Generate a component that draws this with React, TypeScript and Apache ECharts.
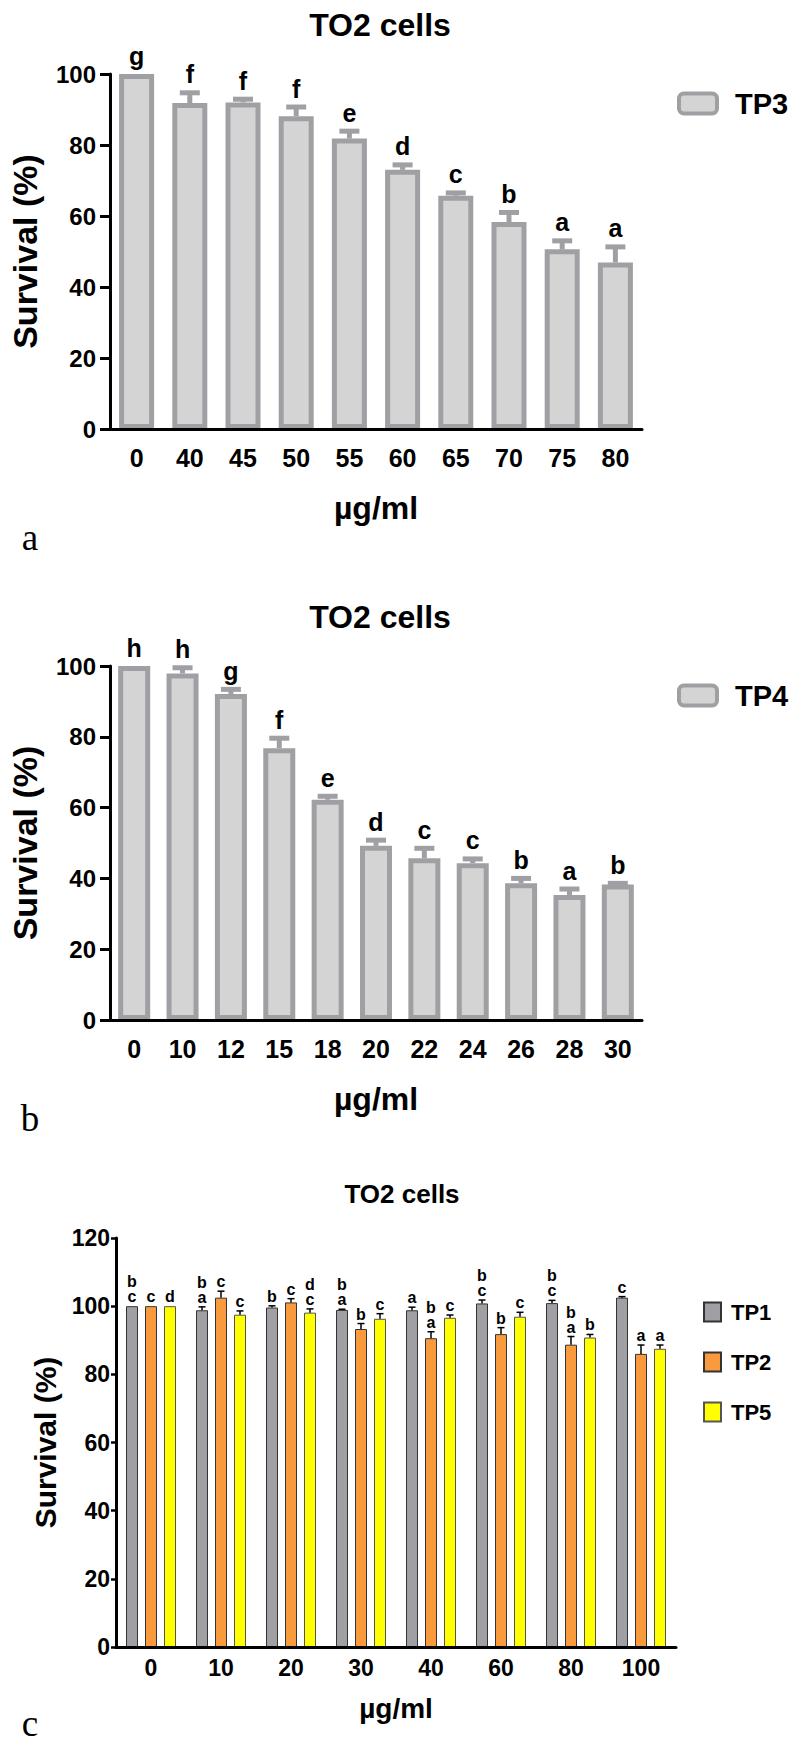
import React, { useEffect, useRef } from 'react';
import * as echarts from 'echarts';

// ---------- data ----------
const catsA = ['0', '40', '45', '50', '55', '60', '65', '70', '75', '80'];
const meanA = [100, 91.8, 92.0, 88.1, 81.8, 73.0, 65.7, 58.3, 50.6, 46.9];
const errA = [0, 2.9, 0.9, 2.6, 2.1, 1.4, 0.8, 2.7, 2.4, 4.4];
const letA = ['g', 'f', 'f', 'f', 'e', 'd', 'c', 'b', 'a', 'a'];

const catsB = ['0', '10', '12', '15', '18', '20', '22', '24', '26', '28', '30'];
const meanB = [100, 97.9, 92.1, 76.8, 62.2, 49.2, 45.7, 44.3, 38.6, 35.3, 38.3];
const errB = [0, 1.6, 1.3, 2.8, 1.0, 1.6, 2.8, 1.2, 1.4, 1.7, 0.3];
const letB = ['h', 'h', 'g', 'f', 'e', 'd', 'c', 'c', 'b', 'a', 'b'];

const catsC = ['0', '10', '20', '30', '40', '60', '80', '100'];
const tp1 = [100, 98.8, 99.6, 98.9, 98.8, 100.8, 100.9, 102.5];
const tp1Err = [0, 1.0, 0.5, 0.2, 0.9, 1.0, 0.8, 0.3];
const tp1Let = ['b\nc', 'b\na', 'b', 'b\na', 'a', 'b\nc', 'b\nc', 'c'];
const tp2 = [100, 102.5, 101.1, 93.3, 90.6, 91.8, 88.7, 86.0];
const tp2Err = [0, 1.9, 1.1, 1.6, 1.9, 1.9, 2.4, 2.6];
const tp2Let = ['c', 'c', 'c', 'b', 'b\na', 'b', 'b\na', 'a'];
const tp5 = [100, 97.5, 98.1, 96.3, 96.6, 96.9, 90.8, 87.5];
const tp5Err = [0, 1.1, 1.1, 1.5, 0.8, 1.3, 0.9, 1.1];
const tp5Let = ['d', 'c', 'd\nc', 'c', 'c', 'c', 'b', 'a'];

const yMaxAB = 100;
const yMaxC = 120;
const yStep = 20;

// ---------- styles ----------
const FF = '"Liberation Sans", Arial, Helvetica, sans-serif';
const SERIF = '"Liberation Serif", "Times New Roman", serif';
const C_BAR_W = 12;
const C_GAP_PX = 7;

function errorSeries(
  name: string,
  axisIdx: number,
  means: number[],
  errs: number[],
  letters: string[],
  o: { offset: number; color: string; width: number; capW: number; fontSize: number; lineHeight: number; gap: number }
) {
  return {
    type: 'custom',
    name,
    xAxisIndex: axisIdx,
    yAxisIndex: axisIdx,
    z: 6,
    encode: { x: 0, y: 1 },
    data: means.map((m, i) => [i, m, errs[i]]),
    renderItem: (params: any, api: any) => {
      const i = api.value(0);
      const m = api.value(1);
      const e = api.value(2);
      const p0 = api.coord([i, m]);
      const p1 = api.coord([i, m + e]);
      const x = p0[0] + o.offset;
      const children: any[] = [];
      if (e > 0) {
        children.push({
          type: 'line',
          shape: { x1: x, y1: p0[1], x2: x, y2: p1[1] },
          style: { stroke: o.color, lineWidth: o.width },
        });
        children.push({
          type: 'line',
          shape: { x1: x - o.capW / 2, y1: p1[1], x2: x + o.capW / 2, y2: p1[1] },
          style: { stroke: o.color, lineWidth: o.width },
        });
      }
      children.push({
        type: 'text',
        x,
        y: p1[1] - o.gap,
        style: {
          text: letters[params.dataIndex],
          fontSize: o.fontSize,
          fontWeight: 'bold',
          fontFamily: FF,
          fill: '#000',
          align: 'center',
          verticalAlign: 'bottom',
          lineHeight: o.lineHeight,
        },
      });
      return { type: 'group', children };
    },
  };
}

function axesAB(cats: string[], gridIndex: number) {
  const x = {
    type: 'category',
    gridIndex,
    data: cats,
    z: 5,
    axisLine: { lineStyle: { color: '#000', width: 3 } },
    axisTick: { alignWithLabel: true, length: 10, lineStyle: { color: '#000', width: 3 } },
    axisLabel: { fontSize: 25, fontWeight: 'bold', color: '#000', margin: 16, fontFamily: FF },
    name: 'µg/ml',
    nameLocation: 'middle',
    nameGap: 63,
    nameTextStyle: { fontSize: 32, fontWeight: 'bold', color: '#000', fontFamily: FF },
  };
  const y = {
    type: 'value',
    gridIndex,
    min: 0,
    max: yMaxAB,
    interval: yStep,
    z: 5,
    axisLine: { show: true, lineStyle: { color: '#000', width: 3 } },
    axisTick: { show: true, length: 10, lineStyle: { color: '#000', width: 3 } },
    axisLabel: { fontSize: 24, fontWeight: 'bold', color: '#000', margin: 14, fontFamily: FF },
    splitLine: { show: false },
    name: 'Survival (%)',
    nameLocation: 'middle',
    nameGap: 68,
    nameTextStyle: { fontSize: 34, fontWeight: 'bold', color: '#000', fontFamily: FF },
  };
  return { x, y };
}

export default function App() {
  const ref = useRef<HTMLDivElement>(null);
  useEffect(() => {
    if (!ref.current) return;
    const chart = echarts.init(ref.current, undefined, { renderer: 'svg' });
    const a = axesAB(catsA, 0);
    const b = axesAB(catsB, 1);
    const abBarStyle = { color: '#D4D4D4', borderColor: '#A0A0A4', borderWidth: 5 };
    const abErr = { offset: 0, color: '#A0A0A4', width: 5, capW: 20, fontSize: 25, lineHeight: 25, gap: 6 };
    const cErr = { color: '#000', width: 1.5, capW: 7, fontSize: 16, lineHeight: 15, gap: 2 };
    const step = C_BAR_W + C_GAP_PX;
    const titleStyle = { fontWeight: 'bold', color: '#000', fontFamily: FF };

    const option: any = {
      animation: false,
      backgroundColor: '#fff',
      title: [
        { text: 'TO2 cells', left: 375, top: 4, textAlign: 'center', textStyle: { ...titleStyle, fontSize: 32 } },
        { text: 'TO2 cells', left: 375, top: 596, textAlign: 'center', textStyle: { ...titleStyle, fontSize: 32 } },
        { text: 'TO2 cells', left: 397, top: 1176, textAlign: 'center', textStyle: { ...titleStyle, fontSize: 26 } },
      ],
      legend: [
        {
          data: ['TP3'], left: 677, top: 89, padding: 0, icon: 'roundRect',
          itemWidth: 38, itemHeight: 20, itemStyle: { borderWidth: 4 },
          textStyle: { fontSize: 29, fontWeight: 'bold', color: '#000', fontFamily: FF, padding: [0, 0, 0, 13] },
        },
        {
          data: ['TP4'], left: 677, top: 681, padding: 0, icon: 'roundRect',
          itemWidth: 38, itemHeight: 20, itemStyle: { borderWidth: 4 },
          textStyle: { fontSize: 29, fontWeight: 'bold', color: '#000', fontFamily: FF, padding: [0, 0, 0, 13] },
        },
        {
          data: ['TP1', 'TP2', 'TP5'], left: 703, top: 1301, padding: 0, orient: 'vertical', icon: 'rect',
          itemWidth: 17, itemHeight: 19, itemGap: 28,
          textStyle: { fontSize: 22, fontWeight: 'bold', color: '#000', fontFamily: FF, padding: [0, 0, 0, 5] },
        },
      ],
      grid: [
        { left: 107, top: 74, width: 535, height: 355 },
        { left: 107, top: 666, width: 535, height: 354 },
        { left: 116, top: 1238, width: 560, height: 409 },
      ],
      xAxis: [
        a.x,
        b.x,
        {
          type: 'category',
          gridIndex: 2,
          data: catsC,
          z: 5,
          axisLine: { lineStyle: { color: '#000', width: 3 } },
          axisTick: { alignWithLabel: true, length: 6, lineStyle: { color: '#000', width: 2.5 } },
          axisLabel: { fontSize: 23, fontWeight: 'bold', color: '#000', margin: 9, fontFamily: FF },
          name: 'µg/ml',
          nameLocation: 'middle',
          nameGap: 47,
          nameTextStyle: { fontSize: 28, fontWeight: 'bold', color: '#000', fontFamily: FF },
        },
      ],
      yAxis: [
        a.y,
        b.y,
        {
          type: 'value',
          gridIndex: 2,
          min: 0,
          max: yMaxC,
          interval: yStep,
          z: 5,
          axisLine: { show: true, lineStyle: { color: '#000', width: 3 } },
          axisTick: { show: true, length: 5, lineStyle: { color: '#000', width: 2.5 } },
          axisLabel: { fontSize: 23, fontWeight: 'bold', color: '#000', margin: 6, fontFamily: FF },
          splitLine: { show: false },
          name: 'Survival (%)',
          nameLocation: 'middle',
          nameGap: 46,
          nameTextStyle: { fontSize: 30, fontWeight: 'bold', color: '#000', fontFamily: FF },
        },
      ],
      series: [
        { type: 'bar', name: 'TP3', xAxisIndex: 0, yAxisIndex: 0, data: meanA, barWidth: 35, itemStyle: abBarStyle },
        errorSeries('errA', 0, meanA, errA, letA, abErr),
        { type: 'bar', name: 'TP4', xAxisIndex: 1, yAxisIndex: 1, data: meanB, barWidth: 32, itemStyle: abBarStyle },
        errorSeries('errB', 1, meanB, errB, letB, abErr),
        {
          type: 'bar', name: 'TP1', xAxisIndex: 2, yAxisIndex: 2, data: tp1, barWidth: C_BAR_W,
          barGap: `${(C_GAP_PX / C_BAR_W) * 100}%`,
          itemStyle: { color: '#A0A0A4', borderColor: '#333', borderWidth: 1 },
        },
        {
          type: 'bar', name: 'TP2', xAxisIndex: 2, yAxisIndex: 2, data: tp2, barWidth: C_BAR_W,
          barGap: `${(C_GAP_PX / C_BAR_W) * 100}%`,
          itemStyle: { color: '#F99B3C', borderColor: '#333', borderWidth: 1 },
        },
        {
          type: 'bar', name: 'TP5', xAxisIndex: 2, yAxisIndex: 2, data: tp5, barWidth: C_BAR_W,
          barGap: `${(C_GAP_PX / C_BAR_W) * 100}%`,
          itemStyle: { color: '#FFFF00', borderColor: '#555', borderWidth: 1 },
        },
        errorSeries('errC1', 2, tp1, tp1Err, tp1Let, { ...cErr, offset: -step }),
        errorSeries('errC2', 2, tp2, tp2Err, tp2Let, { ...cErr, offset: 0 }),
        errorSeries('errC5', 2, tp5, tp5Err, tp5Let, { ...cErr, offset: step }),
      ],
      graphic: [
        { type: 'text', x: 30, y: 537, style: { text: 'a', fontSize: 37, fontFamily: SERIF, fill: '#000', align: 'center', verticalAlign: 'middle' } },
        { type: 'text', x: 30, y: 1118, style: { text: 'b', fontSize: 37, fontFamily: SERIF, fill: '#000', align: 'center', verticalAlign: 'middle' } },
        { type: 'text', x: 30, y: 1723, style: { text: 'c', fontSize: 37, fontFamily: SERIF, fill: '#000', align: 'center', verticalAlign: 'middle' } },
      ],
    };
    chart.setOption(option);
    return () => chart.dispose();
  }, []);
  return (
    <div
      ref={ref}
      style={{ position: 'absolute', left: 0, top: 0, width: 797, height: 1743, background: '#fff' }}
    />
  );
}
